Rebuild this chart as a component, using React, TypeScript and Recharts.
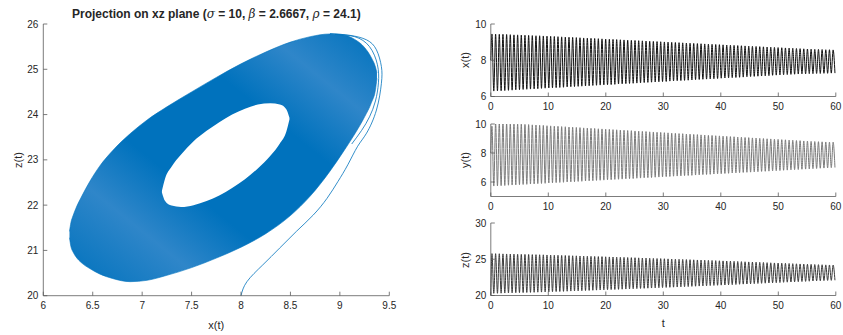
import React from "react";
import { ComposedChart, LineChart, Line, Area, XAxis, YAxis } from "recharts";

// Lorenz trajectory, sigma = 10, beta = 2.6667, rho = 24.1, started at x = 8, z = 20

// spacing of the oscillation maxima and the time of the first one
const period = 0.638;
const firstPeak = 0.2;

// successive maxima / minima of x(t)
const xPeaks = [
  9.45, 9.44, 9.43, 9.43, 9.42, 9.41, 9.4, 9.4, 9.39, 9.38,
  9.37, 9.36, 9.35, 9.35, 9.34, 9.33, 9.32, 9.31, 9.3, 9.29,
  9.28, 9.27, 9.26, 9.25, 9.24, 9.23, 9.22, 9.21, 9.2, 9.19,
  9.18, 9.17, 9.16, 9.15, 9.14, 9.13, 9.12, 9.11, 9.1, 9.09,
  9.08, 9.07, 9.06, 9.05, 9.04, 9.03, 9.02, 9.01, 9.0, 8.99,
  8.98, 8.97, 8.96, 8.95, 8.94, 8.93, 8.92, 8.91, 8.9, 8.89,
  8.88, 8.87, 8.86, 8.85, 8.84, 8.83, 8.82, 8.81, 8.8, 8.79,
  8.78, 8.77, 8.76, 8.75, 8.74, 8.73, 8.72, 8.71, 8.7, 8.69,
  8.68, 8.67, 8.66, 8.65, 8.64, 8.63, 8.62, 8.61, 8.6, 8.6,
  8.59, 8.58, 8.58, 8.57,
];
const xTroughs = [
  6.3, 6.31, 6.32, 6.33, 6.34, 6.35, 6.37, 6.38, 6.39, 6.4,
  6.41, 6.42, 6.43, 6.45, 6.46, 6.47, 6.48, 6.49, 6.5, 6.51,
  6.53, 6.54, 6.55, 6.56, 6.57, 6.58, 6.59, 6.61, 6.62, 6.63,
  6.64, 6.65, 6.66, 6.67, 6.69, 6.7, 6.71, 6.72, 6.73, 6.74,
  6.75, 6.77, 6.78, 6.79, 6.8, 6.81, 6.82, 6.83, 6.85, 6.86,
  6.87, 6.88, 6.89, 6.9, 6.91, 6.93, 6.94, 6.95, 6.96, 6.97,
  6.98, 6.99, 7.01, 7.02, 7.03, 7.04, 7.05, 7.06, 7.07, 7.09,
  7.1, 7.11, 7.12, 7.13, 7.14, 7.15, 7.17, 7.18, 7.19, 7.2,
  7.21, 7.22, 7.23, 7.24, 7.25, 7.25, 7.26, 7.26, 7.27, 7.27,
  7.28, 7.28, 7.29, 7.29,
];

// successive maxima / minima of y(t)
const yPeaks = [
  9.85, 10.09, 10.08, 10.06, 10.05, 10.03, 10.02, 10.0, 9.99, 9.97,
  9.96, 9.94, 9.93, 9.91, 9.9, 9.88, 9.87, 9.85, 9.84, 9.82,
  9.81, 9.79, 9.78, 9.76, 9.75, 9.73, 9.72, 9.7, 9.69, 9.67,
  9.66, 9.64, 9.63, 9.61, 9.6, 9.58, 9.57, 9.55, 9.54, 9.52,
  9.51, 9.49, 9.48, 9.46, 9.45, 9.43, 9.42, 9.4, 9.39, 9.37,
  9.36, 9.34, 9.33, 9.31, 9.3, 9.28, 9.27, 9.25, 9.24, 9.22,
  9.21, 9.19, 9.18, 9.16, 9.15, 9.13, 9.12, 9.1, 9.09, 9.07,
  9.06, 9.04, 9.03, 9.01, 9.0, 8.98, 8.97, 8.95, 8.94, 8.92,
  8.91, 8.89, 8.88, 8.86, 8.85, 8.83, 8.82, 8.8, 8.79, 8.78,
  8.77, 8.76, 8.75, 8.75,
];
const yTroughs = [
  5.72, 5.73, 5.75, 5.76, 5.78, 5.79, 5.8, 5.82, 5.83, 5.84,
  5.86, 5.87, 5.89, 5.9, 5.91, 5.93, 5.94, 5.96, 5.97, 5.98,
  6.0, 6.01, 6.02, 6.04, 6.05, 6.07, 6.08, 6.09, 6.11, 6.12,
  6.13, 6.15, 6.16, 6.18, 6.19, 6.2, 6.22, 6.23, 6.24, 6.26,
  6.27, 6.29, 6.3, 6.31, 6.33, 6.34, 6.35, 6.37, 6.38, 6.4,
  6.41, 6.42, 6.44, 6.45, 6.46, 6.48, 6.49, 6.51, 6.52, 6.53,
  6.55, 6.56, 6.57, 6.59, 6.6, 6.62, 6.63, 6.64, 6.66, 6.67,
  6.68, 6.7, 6.71, 6.73, 6.74, 6.75, 6.77, 6.78, 6.79, 6.81,
  6.82, 6.84, 6.85, 6.86, 6.88, 6.89, 6.9, 6.92, 6.93, 6.95,
  6.96, 6.97, 6.99, 7.0,
];

// successive maxima / minima of z(t)
const zPeaks = [
  25.78, 25.77, 25.76, 25.74, 25.73, 25.72, 25.71, 25.69, 25.68, 25.67,
  25.66, 25.64, 25.63, 25.62, 25.61, 25.59, 25.58, 25.56, 25.55, 25.53,
  25.52, 25.5, 25.48, 25.47, 25.45, 25.44, 25.42, 25.4, 25.39, 25.37,
  25.36, 25.34, 25.32, 25.31, 25.29, 25.27, 25.26, 25.24, 25.22, 25.21,
  25.19, 25.17, 25.16, 25.14, 25.12, 25.1, 25.09, 25.07, 25.05, 25.03,
  25.01, 25.0, 24.98, 24.96, 24.94, 24.92, 24.9, 24.89, 24.87, 24.85,
  24.83, 24.81, 24.79, 24.77, 24.75, 24.73, 24.71, 24.69, 24.67, 24.65,
  24.63, 24.61, 24.59, 24.57, 24.55, 24.53, 24.51, 24.49, 24.47, 24.45,
  24.43, 24.41, 24.39, 24.37, 24.35, 24.33, 24.31, 24.29, 24.27, 24.25,
  24.24, 24.22, 24.21, 24.2,
];
const zTroughs = [
  20.3, 20.31, 20.32, 20.34, 20.35, 20.36, 20.38, 20.39, 20.4, 20.42,
  20.43, 20.44, 20.46, 20.47, 20.49, 20.5, 20.52, 20.54, 20.55, 20.57,
  20.59, 20.61, 20.63, 20.64, 20.66, 20.68, 20.7, 20.72, 20.74, 20.76,
  20.78, 20.8, 20.82, 20.83, 20.85, 20.87, 20.89, 20.91, 20.93, 20.95,
  20.97, 20.99, 21.01, 21.03, 21.05, 21.07, 21.09, 21.11, 21.13, 21.15,
  21.17, 21.19, 21.21, 21.23, 21.26, 21.28, 21.3, 21.32, 21.34, 21.37,
  21.39, 21.41, 21.43, 21.46, 21.48, 21.5, 21.52, 21.55, 21.57, 21.59,
  21.61, 21.64, 21.66, 21.68, 21.7, 21.73, 21.75, 21.77, 21.79, 21.82,
  21.84, 21.86, 21.88, 21.91, 21.93, 21.95, 21.97, 22.0, 22.02, 22.04,
  22.06, 22.08, 22.09, 22.1,
];

// band covered by the orbit in the xz plane (outer edge) and the empty centre
const ringX = [6.265, 6.28, 6.3, 6.33, 6.39, 6.47, 6.57, 6.7, 6.88, 7.05, 7.25, 7.5, 7.75, 8.0, 8.25, 8.5, 8.7, 8.9, 9.05, 9.15, 9.25, 9.32, 9.36, 9.375];
const ringLow = [21.28, 21.08, 20.97, 20.86, 20.72, 20.6, 20.48, 20.38, 20.31, 20.34, 20.45, 20.62, 20.83, 21.07, 21.37, 21.77, 22.2, 22.75, 23.23, 23.57, 23.95, 24.27, 24.55, 24.8];
const ringHigh = [21.42, 21.62, 21.76, 21.93, 22.2, 22.52, 22.86, 23.2, 23.58, 23.88, 24.17, 24.5, 24.82, 25.12, 25.38, 25.6, 25.72, 25.78, 25.75, 25.66, 25.48, 25.25, 25.05, 24.92];

const holeX = [7.2, 7.232, 7.297, 7.394, 7.52, 7.652, 7.78, 7.91, 8.04, 8.17, 8.297, 8.393, 8.458, 8.49];
const holeLow = [22.28, 22.09, 21.99, 21.96, 22.0, 22.09, 22.21, 22.38, 22.57, 22.81, 23.09, 23.36, 23.62, 23.89];
const holeHigh = [22.32, 22.59, 22.85, 23.12, 23.41, 23.64, 23.83, 24.0, 24.13, 24.22, 24.25, 24.22, 24.12, 23.93];

// transient from the initial point up to the first loop
const startX = [8.0, 8.06, 8.22, 8.39, 8.56, 8.73, 8.87, 8.98, 9.08, 9.18, 9.27, 9.37, 9.42, 9.42, 9.37, 9.27, 9.1, 8.9];
const startZ = [20.0, 20.31, 20.68, 21.05, 21.42, 21.78, 22.15, 22.52, 22.89, 23.3, 23.59, 24.1, 24.69, 25.06, 25.43, 25.65, 25.75, 25.79];

// second pass down the right-hand side
const returnX = [8.95, 9.15, 9.3, 9.38, 9.39, 9.36, 9.3, 9.22, 9.12];
const returnZ = [25.77, 25.72, 25.5, 25.1, 24.7, 24.3, 23.95, 23.65, 23.35];

const timeTicks = [0, 10, 20, 30, 40, 50, 60];
const xzXTicks = [6, 6.5, 7, 7.5, 8, 8.5, 9, 9.5];
const xzZTicks = [20, 21, 22, 23, 24, 25, 26];

const series: { t: number; x: number; y: number; z: number }[] = [{ t: 0, x: 8, y: 8, z: 20 }];
xPeaks.forEach((_, k) => {
  const tp = firstPeak + k * period;
  series.push({ t: tp, x: xPeaks[k], y: yPeaks[k], z: zPeaks[k] });
  series.push({ t: tp + period / 2, x: xTroughs[k], y: yTroughs[k], z: zTroughs[k] });
});

const ringData = ringX.map((x, i) => ({ x, band: [ringLow[i], ringHigh[i]] }));
const holeData = holeX.map((x, i) => ({ x, band: [holeLow[i], holeHigh[i]] }));
const startData = startX.map((x, i) => ({ x, z: startZ[i] }));
const returnData = returnX.map((x, i) => ({ x, z: returnZ[i] }));

const FONT = "'Liberation Sans', Arial, Helvetica, sans-serif";
const AXIS = "#5a5a5a";
const TEXT = "#262626";
const BLUE = "#0072BD";
const BLUE_LIGHT = "#2f86c9";

const tickStyle = { fontSize: 10, fill: TEXT, fontFamily: FONT };
const lineStyle = { stroke: AXIS, strokeWidth: 0.8 };

const Label = ({ x, y, text, rotate, size = 11, bold }: { x: number; y: number; text: React.ReactNode; rotate?: boolean; size?: number; bold?: boolean }) => (
  <div
    style={{
      position: "absolute",
      left: x,
      top: y,
      transform: `translate(-50%, -50%)${rotate ? " rotate(-90deg)" : ""}`,
      fontFamily: FONT,
      fontSize: size,
      fontWeight: bold ? "bold" : "normal",
      color: TEXT,
      whiteSpace: "nowrap",
    }}
  >
    {text}
  </div>
);

const greek = { fontFamily: "'DejaVu Serif', serif", fontWeight: "normal" as const };

interface PanelProps {
  dataKey: "x" | "y" | "z";
  domain: [number, number];
  ticks: number[];
  color: string;
  top: number;
}

const PLOT_H = 72.5;

const TimePanel = ({ dataKey, domain, ticks, color, top }: PanelProps) => (
  <div style={{ position: "absolute", left: 440, top: top - 10 }}>
    <LineChart width={403} height={PLOT_H + 35} data={series} margin={{ top: 10, right: 7.2, bottom: 0, left: 0 }}>
      <XAxis
        dataKey="t"
        type="number"
        domain={[0, 60]}
        ticks={timeTicks}
        height={25}
        tickSize={-4}
        tickMargin={10}
        tick={tickStyle}
        axisLine={lineStyle}
        tickLine={lineStyle}
      />
      <XAxis xAxisId="top" orientation="top" dataKey="t" type="number" domain={[0, 60]} ticks={timeTicks} height={0} tickSize={-4} tick={false} axisLine={lineStyle} tickLine={lineStyle} />
      <YAxis
        type="number"
        domain={domain}
        ticks={ticks}
        allowDataOverflow
        width={50.8}
        tickSize={-4}
        tickMargin={8.5}
        tick={tickStyle}
        axisLine={lineStyle}
        tickLine={lineStyle}
      />
      <YAxis yAxisId="right" orientation="right" type="number" domain={domain} ticks={ticks} width={0} tickSize={-4} tick={false} axisLine={lineStyle} tickLine={lineStyle} />
      <Line dataKey={dataKey} type="monotone" stroke={color} strokeWidth={1} dot={false} isAnimationActive={false} />
    </LineChart>
  </div>
);

export default function App() {
  return (
    <div style={{ position: "absolute", left: 0, top: 0, width: 843, height: 335, background: "#fff", overflow: "hidden" }}>
      <div style={{ position: "absolute", left: 0, top: 0 }}>
        <ComposedChart width={400} height={335} margin={{ top: 24, right: 10.7, bottom: 0, left: 0 }}>
          <defs>
            {/* the orbit is sparser near the two ends of the band */}
            <linearGradient id="ringFill" x1="0" y1="1" x2="1" y2="0">
              <stop offset="0" stopColor={BLUE} />
              <stop offset="0.22" stopColor={BLUE_LIGHT} />
              <stop offset="0.38" stopColor={BLUE} />
              <stop offset="0.66" stopColor={BLUE} />
              <stop offset="0.82" stopColor={BLUE_LIGHT} />
              <stop offset="1" stopColor={BLUE} />
            </linearGradient>
          </defs>
          <XAxis
            dataKey="x"
            type="number"
            domain={[6, 9.5]}
            ticks={xzXTicks}
            height={39.3}
            tickSize={-4}
            tickMargin={10}
            tick={tickStyle}
            axisLine={lineStyle}
            tickLine={lineStyle}
          />
          <XAxis xAxisId="top" orientation="top" dataKey="x" type="number" domain={[6, 9.5]} ticks={xzXTicks} height={0} tickSize={-4} tick={false} axisLine={lineStyle} tickLine={lineStyle} />
          <YAxis
            type="number"
            domain={[20, 26]}
            ticks={xzZTicks}
            width={43.3}
            tickSize={-4}
            tickMargin={9}
            tick={tickStyle}
            axisLine={lineStyle}
            tickLine={lineStyle}
          />
          <YAxis yAxisId="right" orientation="right" type="number" domain={[20, 26]} ticks={xzZTicks} width={0} tickSize={-4} tick={false} axisLine={lineStyle} tickLine={lineStyle} />
          <Area data={ringData} dataKey="band" type="monotone" fill="url(#ringFill)" fillOpacity={1} stroke={BLUE} strokeWidth={0.6} isAnimationActive={false} />
          <Area data={holeData} dataKey="band" type="monotone" fill="#fff" fillOpacity={1} stroke="none" isAnimationActive={false} />
          <Line data={returnData} dataKey="z" type="natural" stroke={BLUE} strokeWidth={0.8} dot={false} isAnimationActive={false} />
          <Line data={startData} dataKey="z" type="natural" stroke={BLUE} strokeWidth={0.8} dot={false} isAnimationActive={false} />
        </ComposedChart>
      </div>
      <Label
        x={216.3}
        y={14}
        size={12}
        bold
        text={
          <>
            Projection on xz plane (<i style={greek}>σ</i> = 10, <i style={greek}>β</i> = 2.6667, <i style={greek}>ρ</i> = 24.1)
          </>
        }
      />
      <Label x={216.3} y={325} text="x(t)" />
      <Label x={18} y={160} text="z(t)" rotate />

      <TimePanel dataKey="x" domain={[6, 10]} ticks={[6, 8, 10]} color="#111" top={24} />
      <TimePanel dataKey="y" domain={[5, 10]} ticks={[6, 8, 10]} color="#7a7a7a" top={123.6} />
      <TimePanel dataKey="z" domain={[20, 30]} ticks={[20, 25, 30]} color="#3a3a3a" top={223.2} />
      <Label x={465} y={60} text="x(t)" rotate />
      <Label x={465} y={160} text="y(t)" rotate />
      <Label x={465} y={259.5} text="z(t)" rotate />
      <Label x={663.3} y={323} text="t" />
    </div>
  );
}
